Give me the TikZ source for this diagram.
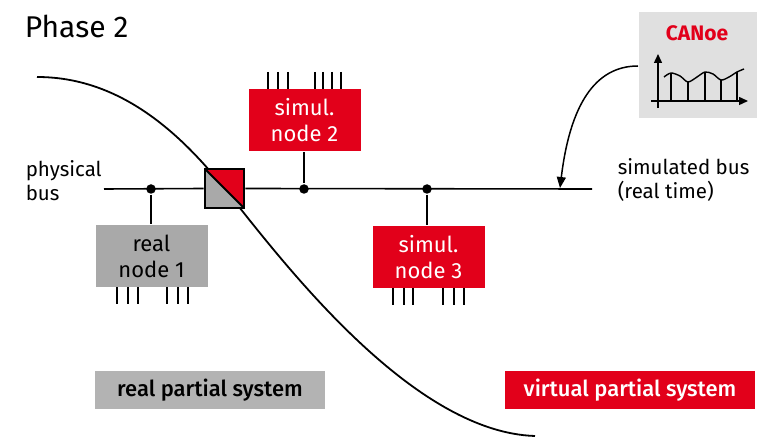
\documentclass[tikz,border=0pt]{standalone}
\usepackage{fontspec}
\setmainfont{Fira Sans}
\newfontfamily\medfont{Fira Sans Medium}
\usetikzlibrary{arrows.meta}
\definecolor{vred}{HTML}{E2001A}
\definecolor{ngray}{HTML}{A9A9A9}
\definecolor{lgray}{HTML}{B3B3B3}
\definecolor{cgray}{HTML}{E0E0E0}
\begin{document}
\begin{tikzpicture}[x=1pt,y=-1pt,line width=1.6pt,
  nodebox/.style={inner sep=0pt,minimum width=112pt,minimum height=62pt,align=center,
    font=\fontsize{22}{26}\selectfont},
  realbox/.style={nodebox,fill=ngray,text=black},
  simbox/.style={nodebox,fill=vred,text=white},
  dot/.style={circle,fill=black,inner sep=0pt,minimum size=9.5pt},
  pin/.style={line width=1.6pt},
  lbl/.style={font=\fontsize{20.5}{24}\selectfont,align=left},
  sysbox/.style={inner sep=0pt,minimum height=38pt,font=\medfont\fontsize{22}{24}\selectfont},
  tipA/.style={-{Triangle[length=9pt,width=8pt]}}]
\useasboundingbox (0,0) rectangle (776,438);

% title
\node[anchor=base west,inner sep=0pt,font=\fontsize{30}{34}\selectfont] (title) at (24,38) {Phase 2};

% curve
\draw[line width=1.8pt] (37,77) .. controls (110,77) and (170,120) .. (224,188)
   .. controls (280,258) and (410,432) .. (535,436);

% bus ends
\coordinate (busL) at (104,189);
\coordinate (busR) at (592,189);

% square
\node[draw,line width=2.6pt,minimum size=39pt,inner sep=0pt,
  path picture={
    \fill[ngray] (path picture bounding box.north west) -- (path picture bounding box.south east) -- (path picture bounding box.south west) -- cycle;
    \fill[vred] (path picture bounding box.north west) -- (path picture bounding box.north east) -- (path picture bounding box.south east) -- cycle;
    \draw[line width=2pt] (path picture bounding box.north west) -- (path picture bounding box.south east);
  }] (sq) at (224.5,188.5) {};

\draw (busL) -- (sq.west);
\draw (sq.east) -- (busR);

% nodes
\node[realbox] (n1) at (151.5,256) {real\\node 1};
\node[simbox] (n2) at (304.5,120) {simul.\\node 2};
\node[simbox] (n3) at (428.5,257) {simul.\\node 3};

\node[dot] (d1) at (151,189) {};
\node[dot] (d2) at (304,189) {};
\node[dot] (d3) at (427,189) {};
\draw (d1) -- (d1 |- n1.north);
\draw (n2.south -| d2) -- (d2);
\draw (d3) -- (d3 |- n3.north);

% pins
\foreach \x in {117,128,138,167,178,188} \draw[pin] (\x,287) -- (\x,304);
\foreach \x in {268,278,288,315,323,332,341} \draw[pin] (\x,72) -- (\x,89);
\foreach \x in {393,404,413,443,454,464} \draw[pin] (\x,288) -- (\x,305);

% bus labels
\node[lbl,anchor=base west,inner sep=0pt] (pb1) at (25,177) {physical};
\node[lbl,anchor=base west,inner sep=0pt] (pb2) at (25,201) {bus};
\node[lbl,anchor=base west,inner sep=0pt] (sb1) at (617,175) {simulated bus};
\node[lbl,anchor=base west,inner sep=0pt] (sb2) at (617,199) {(real time)};

% CANoe box
\node[fill=cgray,minimum width=118pt,minimum height=106pt,inner sep=0pt,anchor=north west] (canoe) at (638,11) {};
\node[font=\bfseries\fontsize{21}{24}\selectfont,text=vred,inner sep=0pt] (canoeT) at (697,33) {CANoe};
\coordinate (ya) at (658,108);
\coordinate (yb) at (658,54);
\coordinate (xa) at (651,101);
\coordinate (xb) at (748,101);
\draw[tipA,line width=1.4pt] (ya) -- (yb);
\draw[tipA,line width=1.4pt] (xa) -- (xb);
\draw[line width=1.4pt] plot[smooth] coordinates {(664,77)(671,73)(680,76)(688,82)(697,77)(705,72)(713,74)(721,80)(729,77)(737,72)(744,69)};
\foreach \x/\y in {671/73,688/82,705/72,721/80,737/72} \draw[line width=1.3pt] (\x,\y) -- (\x,101);

% arrow to bus
\coordinate (arrT) at (560,188);
\draw[-{Triangle[length=11pt,width=9pt]},line width=1.5pt] (canoe.west |- 0,66) .. controls (595,66) and (570,105) .. (arrT);

% system labels
\node[sysbox,fill=lgray,minimum width=230pt] (rps) at (210,390) {real partial system};
\node[sysbox,fill=vred,text=white,minimum width=250pt] (vps) at (630,390) {virtual partial system};
\end{tikzpicture}
\end{document}
